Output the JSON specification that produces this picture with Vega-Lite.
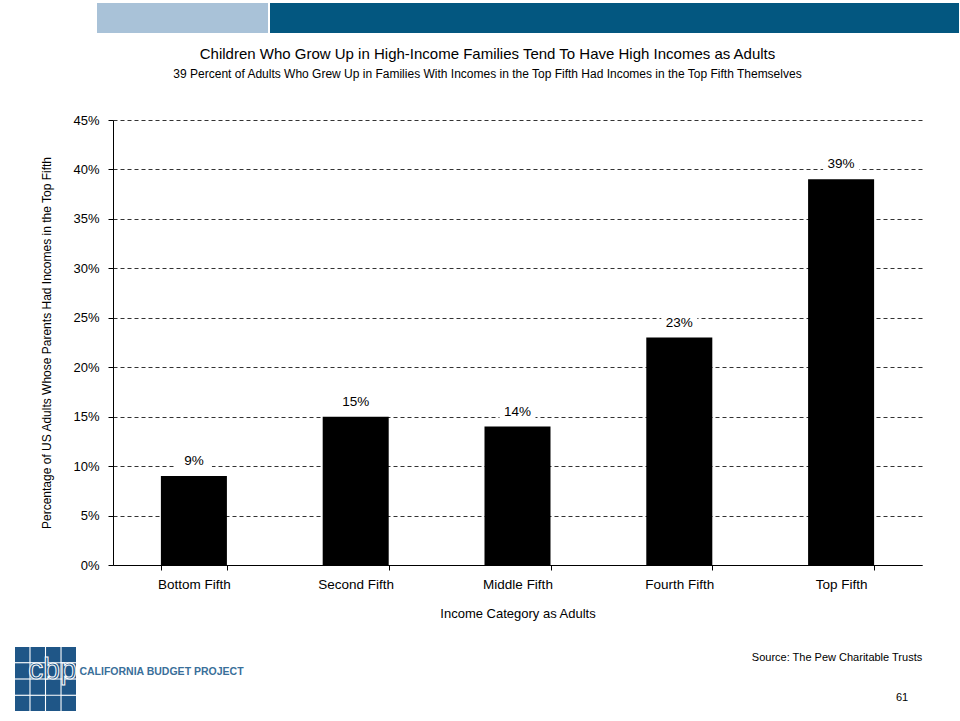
{
  "$schema": "https://vega.github.io/schema/vega-lite/v6.json",
  "padding": {"left": 15, "top": 3, "right": 0, "bottom": 0},
  "background": "white",
  "spacing": 14,
  "bounds": "full",
  "config": {
    "font": "Liberation Sans",
    "view": {"stroke": null}
  },
  "vconcat": [
    {
      "hconcat": [
        {"width": 80, "height": 30, "data": {"values": []}, "mark": "point", "view": {"stroke": null}},
        {"width": 171, "height": 30, "data": {"values": []}, "mark": "point", "view": {"fill": "#a9c2d8", "stroke": null}},
        {"width": 689, "height": 30, "data": {"values": []}, "mark": "point", "view": {"fill": "#035780", "stroke": null}}
      ],
      "spacing": 2,
      "bounds": "flush"
    },
    {
      "hconcat": [
        {"width": 96, "height": 513, "data": {"values": []}, "mark": "point", "view": {"stroke": null}},
        {
          "width": 809,
          "height": 445,
          "title": {
            "text": "Children Who Grow Up in High-Income Families Tend To Have High Incomes as Adults",
            "subtitle": "39 Percent of Adults Who Grew Up in Families With Incomes in the Top Fifth Had Incomes in the Top Fifth Themselves",
            "anchor": "middle",
            "frame": "group",
            "dx": -30,
            "offset": 34,
            "font": "Liberation Sans",
            "fontSize": 15,
            "fontWeight": "normal",
            "color": "black",
            "subtitleFont": "Liberation Sans",
            "subtitleFontSize": 12,
            "subtitleColor": "black",
            "subtitlePadding": 7
          },
          "data": {
            "values": [
              {"category": "Bottom Fifth", "value": 0.09},
              {"category": "Second Fifth", "value": 0.15},
              {"category": "Middle Fifth", "value": 0.14},
              {"category": "Fourth Fifth", "value": 0.23},
              {"category": "Top Fifth", "value": 0.39}
            ]
          },
          "encoding": {
            "x": {
              "field": "category",
              "type": "nominal",
              "sort": null,
              "scale": {"paddingInner": 0.592, "paddingOuter": 0.296},
              "axis": {
                "title": "Income Category as Adults",
                "labelAngle": 0,
                "tickBand": "extent",
                "domainColor": "black",
                "domainWidth": 1,
                "tickColor": "black",
                "tickSize": 5,
                "labelFont": "Liberation Sans",
                "labelFontSize": 13.5,
                "labelColor": "black",
                "labelPadding": 7,
                "titleFont": "Liberation Sans",
                "titleFontSize": 13,
                "titleFontWeight": "normal",
                "titleColor": "black",
                "titlePadding": 17,
                "grid": false
              }
            },
            "y": {
              "field": "value",
              "type": "quantitative",
              "scale": {"domain": [0, 0.45]},
              "axis": {
                "title": "Percentage of US Adults Whose Parents Had Incomes in the Top Fifth",
                "values": [0, 0.05, 0.1, 0.15, 0.2, 0.25, 0.3, 0.35, 0.4, 0.45],
                "format": ".0%",
                "grid": true,
                "gridDash": [4, 3],
                "gridColor": "#333333",
                "gridWidth": 1,
                "domainColor": "black",
                "domainWidth": 1,
                "tickColor": "black",
                "tickSize": 5,
                "labelFont": "Liberation Sans",
                "labelFontSize": 13,
                "labelColor": "black",
                "labelPadding": 9,
                "titleFont": "Liberation Sans",
                "titleFontSize": 12,
                "titleFontWeight": "normal",
                "titleColor": "black",
                "titlePadding": 19
              }
            }
          },
          "layer": [
            {"mark": {"type": "bar", "color": "black"}},
            {
              "mark": {"type": "point", "shape": "M-1,-0.45H1V0.45H-1Z", "size": 1296, "filled": true, "color": "white", "opacity": 1, "strokeWidth": 0, "yOffset": -15}
            },
            {
              "mark": {"type": "text", "dy": -15, "baseline": "middle", "font": "Liberation Sans", "fontSize": 13.5, "color": "black"},
              "encoding": {"text": {"field": "value", "type": "quantitative", "format": ".0%"}}
            }
          ]
        }
      ],
      "spacing": 2,
      "bounds": "flush"
    },
    {
      "hconcat": [
        {
          "width": 61,
          "height": 64,
          "data": {
            "values": [
              {"r": 1, "c": 1}, {"r": 1, "c": 2}, {"r": 1, "c": 3}, {"r": 1, "c": 4},
              {"r": 2, "c": 1}, {"r": 2, "c": 2}, {"r": 2, "c": 3}, {"r": 2, "c": 4},
              {"r": 3, "c": 1}, {"r": 3, "c": 2}, {"r": 3, "c": 3}, {"r": 3, "c": 4},
              {"r": 4, "c": 1}, {"r": 4, "c": 2}, {"r": 4, "c": 3}, {"r": 4, "c": 4}
            ]
          },
          "layer": [
            {
              "mark": {"type": "rect", "color": "#1f5687"},
              "encoding": {
                "x": {"field": "c", "type": "ordinal", "axis": null, "scale": {"paddingInner": 0.07, "paddingOuter": 0}},
                "y": {"field": "r", "type": "ordinal", "axis": null, "scale": {"paddingInner": 0.07, "paddingOuter": 0}}
              }
            },
            {
              "data": {"values": [{"logo": "cbp"}]},
              "mark": {"type": "text", "font": "Liberation Sans", "fontSize": 30, "fill": "#1f5687", "stroke": "white", "strokeWidth": 1, "dx": 7, "dy": -9, "baseline": "middle"},
              "encoding": {"text": {"field": "logo"}}
            }
          ]
        },
        {
          "width": 167,
          "height": 50,
          "data": {"values": [{"name": "CALIFORNIA BUDGET PROJECT"}]},
          "mark": {"type": "text", "font": "Liberation Sans", "fontSize": 10.5, "fontWeight": "bold", "color": "#3a6f9a", "baseline": "middle"},
          "encoding": {"text": {"field": "name"}}
        },
        {"width": 503, "height": 64, "data": {"values": []}, "mark": "point"},
        {
          "width": 170,
          "height": 64,
          "data": {"values": [{"source": "Source: The Pew Charitable Trusts", "page": "61"}]},
          "layer": [
            {
              "mark": {"type": "text", "font": "Liberation Sans", "fontSize": 11, "color": "black", "baseline": "middle", "dy": -21},
              "encoding": {"text": {"field": "source"}}
            },
            {
              "mark": {"type": "text", "font": "Liberation Sans", "fontSize": 11, "color": "black", "baseline": "middle", "dx": 65, "dy": 19},
              "encoding": {"text": {"field": "page"}}
            }
          ]
        }
      ],
      "spacing": 2,
      "bounds": "flush"
    }
  ]
}
